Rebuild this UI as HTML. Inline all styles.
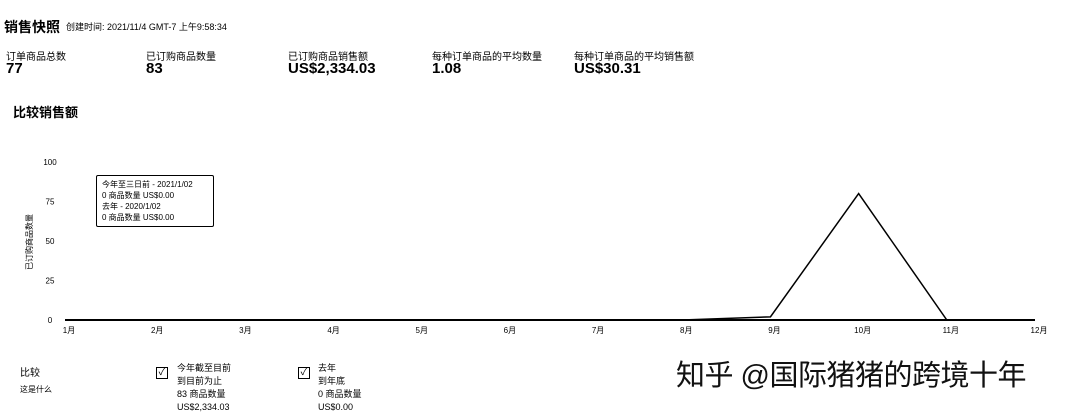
<!DOCTYPE html>
<html><head><meta charset="utf-8">
<style>
body{margin:0;width:1080px;height:416px;background:#fff;font-family:"Liberation Sans","Noto Sans CJK SC",sans-serif;color:#000;position:relative;overflow:hidden}
.a{position:absolute;white-space:nowrap}
.lbl{font-size:10px}
.val{font-size:15px;font-weight:bold}
.cb{position:absolute;width:10px;height:10px;border:1px solid #000;font-size:10px;line-height:10px;text-align:center}
.sm{font-size:9px;line-height:13px}
</style></head><body>
<div class="a" style="left:4px;top:17px;font-size:14px;font-weight:bold">销售快照</div>
<div class="a" style="left:66px;top:20px;font-size:9px">创建时间: 2021/11/4 GMT-7 上午9:58:34</div>

<div class="a lbl" style="left:6px;top:48px">订单商品总数</div>
<div class="a val" style="left:6px;top:60px">77</div>
<div class="a lbl" style="left:146px;top:48px">已订购商品数量</div>
<div class="a val" style="left:146px;top:60px">83</div>
<div class="a lbl" style="left:288px;top:48px">已订购商品销售额</div>
<div class="a val" style="left:288px;top:60px">US$2,334.03</div>
<div class="a lbl" style="left:432px;top:48px">每种订单商品的平均数量</div>
<div class="a val" style="left:432px;top:60px">1.08</div>
<div class="a lbl" style="left:574px;top:48px">每种订单商品的平均销售额</div>
<div class="a val" style="left:574px;top:60px">US$30.31</div>

<div class="a" style="left:13px;top:102px;font-size:13px;font-weight:bold">比较销售额</div>

<svg id="chart" width="1080" height="416" style="position:absolute;left:0;top:0"></svg>

<div class="a" style="left:96px;top:175px;width:118px;height:52px;border:1.5px solid #000;border-radius:2px;font-size:8px;line-height:11px;padding:3px 0 0 5px;box-sizing:border-box">今年至三日前 - 2021/1/02<br>0 商品数量 US$0.00<br>去年 - 2020/1/02<br>0 商品数量 US$0.00</div>

<div class="a" style="left:20px;top:364px;font-size:10px">比较</div>
<div class="a" style="left:20px;top:384px;font-size:8px">这是什么</div>
<div class="cb" style="left:156px;top:367px">✓</div>
<div class="a sm" style="left:177px;top:362px">今年截至目前<br>到目前为止<br>83 商品数量<br>US$2,334.03</div>
<div class="cb" style="left:298px;top:367px">✓</div>
<div class="a sm" style="left:318px;top:362px">去年<br>到年底<br>0 商品数量<br>US$0.00</div>
<div class="a" style="left:676px;top:352px;font-size:29px;color:#111;letter-spacing:-0.5px">知乎 @国际猪猪的跨境十年</div>

<script>
const months=["1月","2月","3月","4月","5月","6月","7月","8月","9月","10月","11月","12月"];
const thisYear=[0,0,0,0,0,0,0,0,2,80,0,0];
const lastYear=[0,0,0,0,0,0,0,0,0,0,0,0];
const yTicks=[0,25,50,75,100];
const svg=document.getElementById('chart');
const NS="http://www.w3.org/2000/svg";
const x0=65,x1=1035,yb=320,yt=162;
const xs=i=>x0+i*(x1-x0)/(months.length-1);
const ys=v=>yb-(v/100)*(yb-yt);
function mk(t,a){const e=document.createElementNS(NS,t);for(const k in a)e.setAttribute(k,a[k]);svg.appendChild(e);return e;}
const ax=mk('line',{x1:x0,x2:x1,y1:yb,y2:yb,stroke:'#000','stroke-width':2});


yTicks.forEach(v=>{const t=mk('text',{x:50,y:ys(v)+3,'font-size':8,'text-anchor':'middle','font-family':'Liberation Sans'});t.textContent=v;

});
months.forEach((m,i)=>{const t=mk('text',{x:xs(i)+4,y:333,'font-size':8,'text-anchor':'middle','font-family':'Liberation Sans, Noto Sans CJK SC'});t.textContent=m;

});
const yt2=mk('text',{x:0,y:0,'font-size':8,transform:'translate(32,242) rotate(-90)','text-anchor':'middle','font-family':'Liberation Sans, Noto Sans CJK SC'});yt2.textContent='已订购商品数量';


const l2=mk('polyline',{points:lastYear.map((v,i)=>xs(i)+','+ys(v)).join(' '),fill:'none',stroke:'#000','stroke-width':1});


const l1=mk('polyline',{points:thisYear.map((v,i)=>xs(i)+','+ys(v)).join(' '),fill:'none',stroke:'#000','stroke-width':1.5});


</script>
</body></html>
